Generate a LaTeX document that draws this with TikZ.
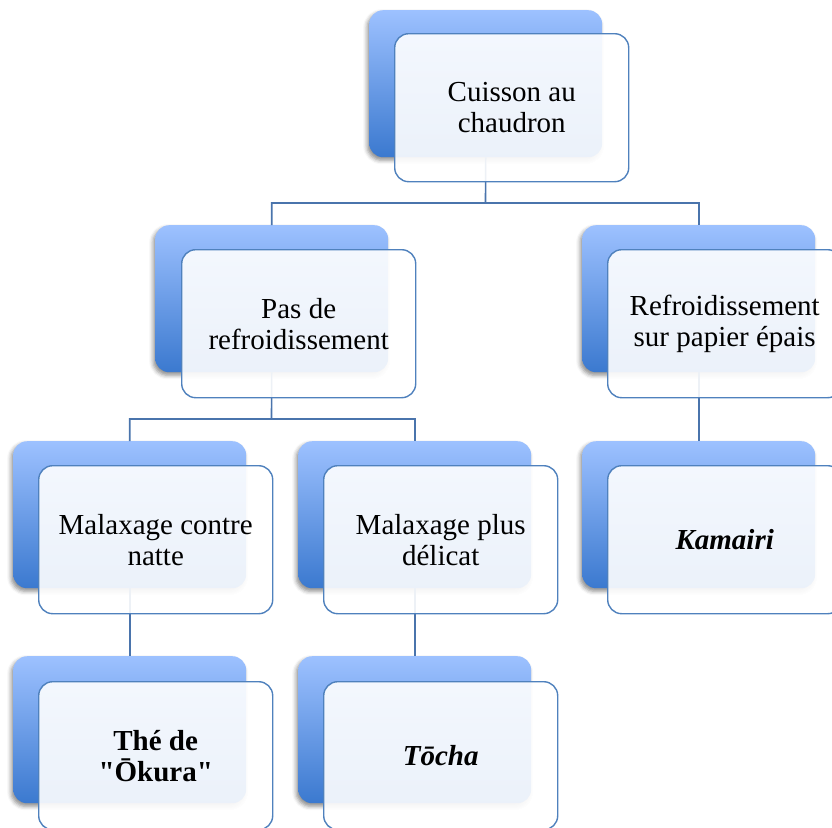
\documentclass[tikz,border=0pt]{standalone}
\usepackage{fontspec}
\setmainfont{Liberation Serif}[Ligatures=TeXOff]
\usetikzlibrary{shadows.blur}
\definecolor{btop}{HTML}{9DC1FF}
\definecolor{bbot}{HTML}{3B79CF}
\definecolor{edgec}{HTML}{4F81BD}
\definecolor{connc}{HTML}{4A74AC}
\begin{document}
\begin{tikzpicture}[x=1pt,y=-1pt,
 backbox/.style={rectangle, rounded corners=14pt, minimum width=233pt, minimum height=147pt,
   anchor=north west, top color=btop, bottom color=bbot, draw=none, inner sep=0pt,
   blur shadow={shadow xshift=-2pt, shadow yshift=-3pt, shadow opacity=45, shadow blur radius=4pt}},
 frontbox/.style={rectangle, rounded corners=14pt, minimum width=234pt, minimum height=148pt,
   anchor=north west, fill=white, fill opacity=0.9, text opacity=1, draw=edgec, line width=1.4pt,
   align=center, inner sep=0pt, font=\fontsize{29}{31}\selectfont},
 connline/.style={draw=connc, line width=1.6pt}]
\useasboundingbox (0,0) rectangle (832,827);
% back boxes
\node[backbox] (b1) at (369,10) {};
\node[backbox] (b2) at (155,225) {};
\node[backbox] (b3) at (582,225) {};
\node[backbox] (b4) at (13,441) {};
\node[backbox] (b5) at (298,441) {};
\node[backbox] (b8) at (582,441) {};
\node[backbox] (b6) at (13,656) {};
\node[backbox] (b7) at (298,656) {};
% connectors
\coordinate (j1) at (485.5,203);
\coordinate (j2) at (271.5,419);
\draw[connline] (b1.south) -- (j1) -| (b2.north);
\draw[connline] (j1) -| (b3.north);
\draw[connline] (b2.south) -- (j2) -| (b4.north);
\draw[connline] (j2) -| (b5.north);
\draw[connline] (b3.south) -- (b8.north);
\draw[connline] (b4.south) -- (b6.north);
\draw[connline] (b5.south) -- (b7.north);
% front boxes
\node[frontbox] (f1) at (394,33) {Cuisson au\\chaudron};
\node[frontbox] (f2) at (181,249) {Pas de\\refroidissement};
\node[frontbox] (f3) at (607,249) {Refroidissement\\sur papier épais};
\node[frontbox] (f4) at (38,465) {Malaxage contre\\natte};
\node[frontbox] (f5) at (323,465) {Malaxage plus\\délicat};
\node[frontbox] (f8) at (607,465) {\textbf{\textit{Kamairi}}};
\node[frontbox] (f6) at (38,681) {\textbf{Thé de}\\\textbf{"Ōkura"}};
\node[frontbox] (f7) at (323,681) {\textbf{\textit{Tōcha}}};
\end{tikzpicture}
\end{document}
